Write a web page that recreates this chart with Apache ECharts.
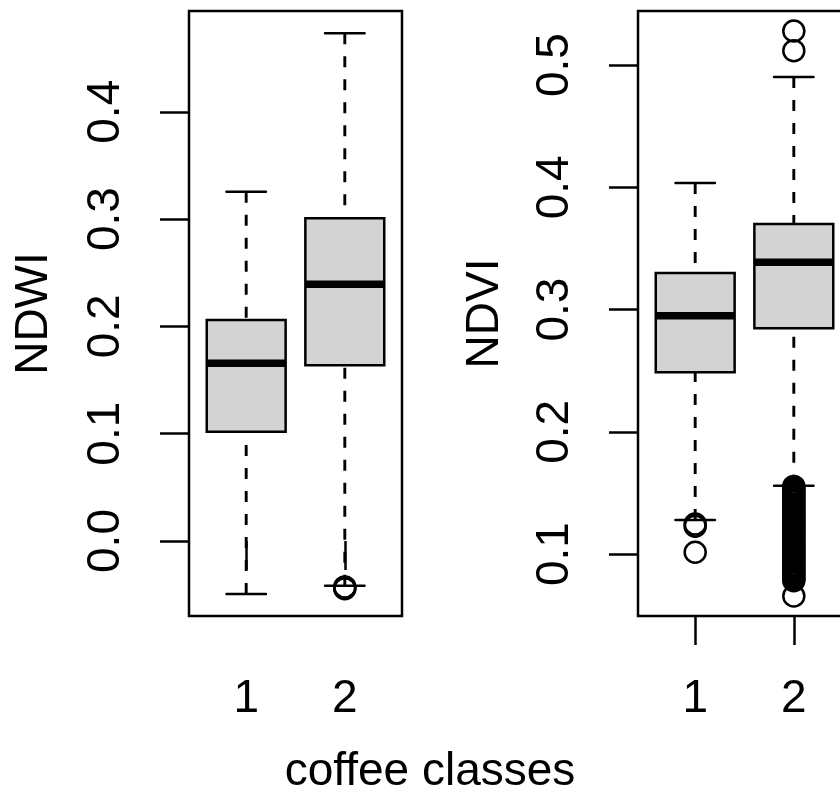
<!DOCTYPE html>
<html>
<head>
<meta charset="utf-8">
<script src="https://cdn.jsdelivr.net/npm/echarts@6/dist/echarts.min.js"></script>
<style>
html,body{margin:0;padding:0;background:#fff;}
#c{width:840px;height:793px;}
</style>
</head>
<body>
<div id="c"></div>
<script>
// ---- data ----
const classes = [1, 2];
const classLabels = ['1', '2'];
// boxplot stats: [lower whisker, Q1, median, Q3, upper whisker]
const ndwiStats1 = [-0.0494, 0.1018, 0.1656, 0.2059, 0.3254];
const ndwiStats2 = [-0.0416, 0.1637, 0.2392, 0.3007, 0.4731];
const ndwiOutliers1 = [];
const ndwiOutliers2 = [-0.0428, -0.0436, -0.0445];
const ndviStats1 = [0.1278, 0.2486, 0.2949, 0.3299, 0.4035];
const ndviStats2 = [0.1559, 0.2846, 0.3386, 0.3699, 0.4902];
const ndviOutliers1 = [0.1245, 0.1228, 0.1014];
const ndviOutliers2 = [0.5278, 0.5117,
  0.1553, 0.1538, 0.1521, 0.1507, 0.1492, 0.1476, 0.1459, 0.1441, 0.1428, 0.1410,
  0.1395, 0.1379, 0.1362, 0.1348, 0.1331, 0.1314, 0.1300, 0.1284, 0.1267, 0.1252,
  0.1236, 0.1221, 0.1203, 0.1189, 0.1172, 0.1158, 0.1141, 0.1126, 0.1109, 0.1093,
  0.1078, 0.1062, 0.1047, 0.1030, 0.1015, 0.0999, 0.0984, 0.0967, 0.0952, 0.0936,
  0.0919, 0.0905, 0.0889, 0.0872, 0.0858, 0.0841, 0.0826, 0.0811, 0.0796, 0.0781,
  0.0657];
const ndwiTicks = [0.0, 0.1, 0.2, 0.3, 0.4];
const ndviTicks = [0.1, 0.2, 0.3, 0.4, 0.5];
const yNames = ['NDWI', 'NDVI'];
const xTitle = 'coffee classes';

// ---- rendering ----
const FONT = 'Liberation Sans, Arial, Helvetica, sans-serif';
const LW = 2.5;

function renderBox(params, api) {
  const x = api.value(0);
  const w = api.size([0.8, 0])[0];
  const sw = w / 2;
  const cx = api.coord([x, api.value(3)])[0];
  const yMin = api.coord([x, api.value(1)])[1];
  const yQ1 = api.coord([x, api.value(2)])[1];
  const yMd = api.coord([x, api.value(3)])[1];
  const yQ3 = api.coord([x, api.value(4)])[1];
  const yMax = api.coord([x, api.value(5)])[1];
  const line = (x1, y1, x2, y2, style) => ({ type: 'line', shape: { x1, y1, x2, y2 }, style });
  const dashed = { stroke: '#000', lineWidth: 2.9, lineDash: [11, 12], lineCap: 'butt' };
  const solid = { stroke: '#000', lineWidth: LW, lineCap: 'round' };
  return {
    type: 'group',
    children: [
      line(cx, yMax, cx, yQ3, dashed),
      line(cx, yMin, cx, yQ1, dashed),
      line(cx - sw / 2, yMax, cx + sw / 2, yMax, solid),
      line(cx - sw / 2, yMin, cx + sw / 2, yMin, solid),
      { type: 'rect', shape: { x: cx - w / 2, y: yQ3, width: w, height: yQ1 - yQ3 },
        style: { fill: '#d3d3d3', stroke: '#000', lineWidth: LW } },
      line(cx - w / 2, yMd, cx + w / 2, yMd, { stroke: '#000', lineWidth: 7.5, lineCap: 'butt' })
    ]
  };
}

function xAxisCfg(gi) {
  return {
    type: 'value', gridIndex: gi, min: 0.42, max: 2.58,
    axisLine: { show: false }, splitLine: { show: false },
    axisTick: { show: true, length: 29, customValues: classes, lineStyle: { color: '#000', width: LW } },
    axisLabel: { customValues: classes, margin: 60, fontSize: 46, color: '#000', fontFamily: FONT,
      formatter: v => classLabels[classes.indexOf(Math.round(v))] }
  };
}
function yAxisCfg(gi, min, max, ticks, name, gap) {
  return {
    type: 'value', gridIndex: gi, min: min, max: max,
    axisLine: { show: false }, splitLine: { show: false },
    axisTick: { show: true, length: 29, customValues: ticks, lineStyle: { color: '#000', width: LW } },
    axisLabel: { customValues: ticks, rotate: 90, margin: 60, fontSize: 46, color: '#000', fontFamily: FONT,
      formatter: v => Number(v).toFixed(1) },
    name: name, nameLocation: 'middle', nameRotate: 90, nameGap: gap,
    nameTextStyle: { fontSize: 46, color: '#000', fontFamily: FONT }
  };
}
function boxSeries(i, s1, s2) {
  return { type: 'custom', xAxisIndex: i, yAxisIndex: i, renderItem: renderBox, silent: true, clip: false,
    data: [[classes[0]].concat(s1), [classes[1]].concat(s2)], encode: { x: 0, y: [1, 2, 3, 4, 5] }, z: 2 };
}
function outSeries(i, cls, vals) {
  return { type: 'scatter', xAxisIndex: i, yAxisIndex: i, silent: true, z: 3,
    data: vals.map(v => [cls, v]), symbol: 'circle', symbolSize: 21,
    itemStyle: { color: 'rgba(0,0,0,0)', borderColor: '#000', borderWidth: LW, opacity: 1 } };
}

const chart = echarts.init(document.getElementById('c'), null, { renderer: 'canvas' });
chart.setOption({
  animation: false,
  backgroundColor: '#fff',
  grid: [
    { left: 189, top: 11, width: 213, height: 605, show: true, borderColor: '#000', borderWidth: LW,
      backgroundColor: 'rgba(0,0,0,0)', containLabel: false, outerBoundsMode: 'none' },
    { left: 638, top: 11, width: 213, height: 605, show: true, borderColor: '#000', borderWidth: LW,
      backgroundColor: 'rgba(0,0,0,0)', containLabel: false, outerBoundsMode: 'none' }
  ],
  xAxis: [xAxisCfg(0), xAxisCfg(1)],
  yAxis: [
    yAxisCfg(0, -0.0699, 0.4939, ndwiTicks, yNames[0], 132),
    yAxisCfg(1, 0.0493, 0.5442, ndviTicks, yNames[1], 130)
  ],
  series: [
    boxSeries(0, ndwiStats1, ndwiStats2),
    outSeries(0, classes[0], ndwiOutliers1),
    outSeries(0, classes[1], ndwiOutliers2),
    boxSeries(1, ndviStats1, ndviStats2),
    outSeries(1, classes[0], ndviOutliers1),
    outSeries(1, classes[1], ndviOutliers2)
  ],
  graphic: [
    { type: 'text', x: 430, y: 772, silent: true,
      style: { text: xTitle, fill: '#000', font: '46px ' + FONT, textAlign: 'center', textVerticalAlign: 'middle' } }
  ]
});
</script>
</body>
</html>
